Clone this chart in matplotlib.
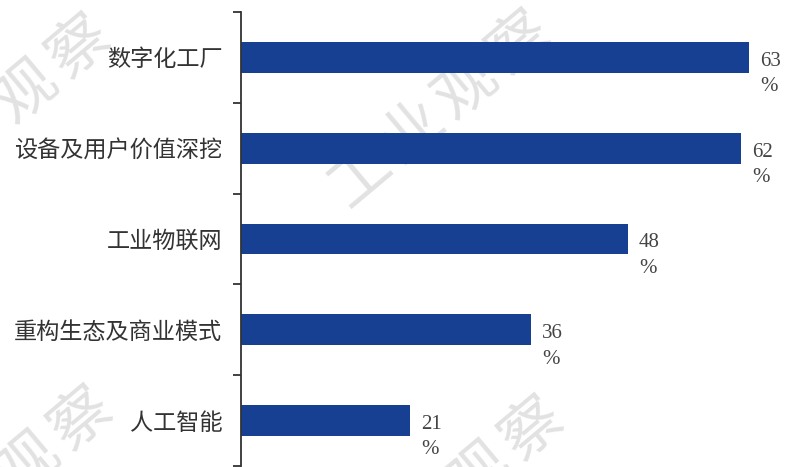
import matplotlib
matplotlib.use("Agg")
import matplotlib.pyplot as plt
import numpy as np

plt.rcParams['font.family'] = ['Noto Sans CJK SC', 'DejaVu Sans']

categories = ["数字化工厂", "设备及用户价值深挖", "工业物联网", "重构生态及商业模式", "人工智能"]
values = [63, 62, 48, 36, 21]
value_unit = "%"
watermark = "工业观察"

W, H = 787, 467
fig = plt.figure(figsize=(W / 100, H / 100), dpi=100)
fig.patch.set_facecolor("white")

# faint diagonal watermark behind the chart, one glyph at a time so that
# only the glyphs falling inside the canvas are drawn
angle = 40
step = 69
dx, dy = step * np.cos(np.radians(angle)), -step * np.sin(np.radians(angle))
wm_centres = [(0, 114), (440, 110), (2, 486), (453, 496)]
for cx, cy in wm_centres:
    for k, ch in enumerate(watermark):
        px = cx + (k - 1.5) * dx
        py = cy + (k - 1.5) * dy
        if 10 < px < W - 10 and 10 < py < H + 22:
            fig.text(px / W, 1 - py / H, ch, rotation=angle, ha="center", va="center",
                     fontsize=44, fontweight="light", color="#e2e2e2", zorder=-5)

ax = fig.add_axes([241 / W, 1 / H, 1 - 241 / W, (H - 13) / H])
ax.patch.set_alpha(0)

y = list(range(len(categories)))
ax.barh(y, values, height=0.34, color="#173f92", zorder=2)

ax.set_xlim(0, (W - 241) / 8.06)
ax.set_ylim(len(categories) - 0.5, -0.5)

for s in ["top", "right", "bottom"]:
    ax.spines[s].set_visible(False)
ax.spines["left"].set_color("#333333")
ax.spines["left"].set_linewidth(1.3)
ax.set_xticks([])

# boundary ticks without labels, labels on the bar centres
ax.set_yticks([i - 0.5 for i in range(len(categories) + 1)])
ax.set_yticklabels([])
ax.tick_params(axis="y", which="major", length=6, width=1.3, color="#333333", direction="out")
ax.set_yticks(y, minor=True)
ax.set_yticklabels(categories, minor=True, fontsize=16.7, color="#333333")
ax.tick_params(axis="y", which="minor", length=0, pad=13.5)

for i, v in enumerate(values):
    ax.annotate(f"{v}\n{value_unit}", xy=(v, i), xytext=(8, 4), textcoords="offset points",
                ha="left", va="top", fontsize=15, color="#444444",
                family=["Liberation Serif", "DejaVu Serif"], linespacing=1.45)

fig.savefig("out.png", dpi=100)
